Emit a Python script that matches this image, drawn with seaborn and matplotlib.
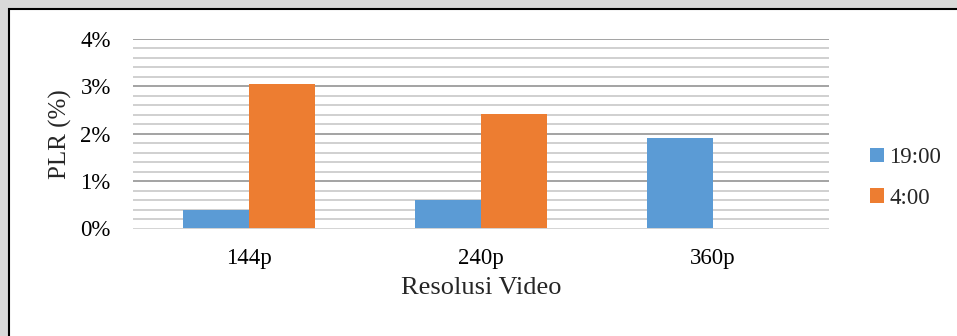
import matplotlib
matplotlib.use("Agg")
import matplotlib.pyplot as plt
from matplotlib.patches import Rectangle
import numpy as np
import pandas as pd
import seaborn as sns

# Packet loss ratio per video resolution, measured at two times of day
resolutions = ["144p", "240p", "360p"]
series_names = ["19:00", "4:00"]
plr_1900 = [0.39, 0.60, 1.92]
plr_0400 = [3.06, 2.41, 0.0]
y_ticks = [0, 1, 2, 3, 4]
y_tick_labels = ["0%", "1%", "2%", "3%", "4%"]
colors = ["#5B9BD5", "#ED7D31"]

df = pd.DataFrame({
    "Resolusi": resolutions * 2,
    "Waktu": [series_names[0]] * len(resolutions) + [series_names[1]] * len(resolutions),
    "PLR": plr_1900 + plr_0400,
})

sns.set_style("white")
plt.rcParams["font.family"] = ["Liberation Serif", "DejaVu Serif"]

W, H = 957, 336
fig = plt.figure(figsize=(W / 100, H / 100), dpi=100)
fig.patch.set_facecolor("#d9d9d9")

# white chart area with a black frame
frame = Rectangle((9 / W, -0.2), 1.2, 1 - 9 / H + 0.2, transform=fig.transFigure,
                  facecolor="white", edgecolor="black", linewidth=1.5, zorder=-5)
fig.patches.append(frame)

ax = fig.add_axes([133 / W, 1 - 228.5 / H, (829 - 133) / W, (228.5 - 39) / H])
ax.set_zorder(2)
ax.set_facecolor("none")

sns.barplot(data=df, x="Resolusi", y="PLR", hue="Waktu", order=resolutions,
            hue_order=series_names, palette=colors, width=0.573, gap=0,
            linewidth=0, saturation=1, ax=ax, zorder=3)

ax.set_ylim(0, 4)
ax.set_xlim(-0.5, len(resolutions) - 0.5)

# minor and major horizontal gridlines
for v in np.arange(0.2, 4.0, 0.2):
    if abs(v - round(v)) > 1e-6:
        ax.axhline(v, color="#c4c4c4", linewidth=1.1, zorder=1)
for v in y_ticks[1:]:
    ax.axhline(v, color="#8a8a8a", linewidth=1.1, zorder=1)
ax.axhline(0, color="#d4d4d4", linewidth=1.4, zorder=4)

ax.set_yticks(y_ticks)
ax.set_yticklabels(y_tick_labels)
for s in ax.spines.values():
    s.set_visible(False)
ax.tick_params(axis="both", length=0, labelsize=16.5, colors="black")
ax.tick_params(axis="y", pad=16)
ax.tick_params(axis="x", pad=14)

ax.set_xlabel("Resolusi Video", fontsize=19, labelpad=6)
ax.set_ylabel("PLR (%)", fontsize=18, labelpad=6)

handles, labels = ax.get_legend_handles_labels()
ax.legend(handles, labels, loc="center left", bbox_to_anchor=(870 / W, 1 - 178 / H),
          bbox_transform=fig.transFigure, frameon=False, fontsize=16.5,
          handlelength=0.6, handleheight=0.6, handletextpad=0.25,
          labelspacing=0.85, borderaxespad=0, borderpad=0)

fig.savefig("out.png", dpi=100, facecolor=fig.get_facecolor())
